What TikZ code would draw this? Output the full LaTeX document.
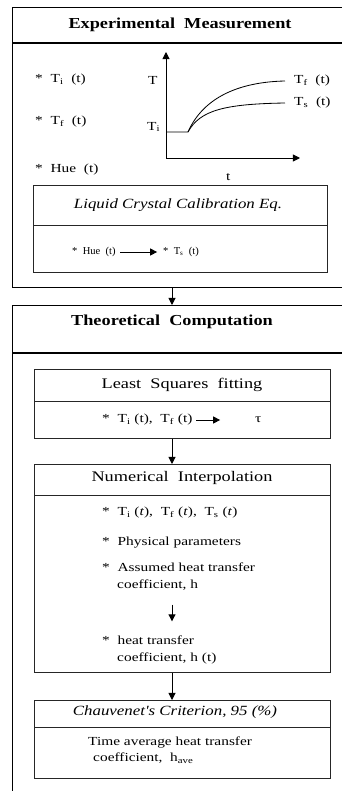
\documentclass[tikz,border=0pt]{standalone}
\usepackage{fontspec}
\setmainfont{Liberation Serif}
\newfontfamily\widefont{Liberation Serif}[FakeStretch=1.25]
\newfontfamily\headfont{Liberation Serif}[FakeStretch=1.2]
\usetikzlibrary{arrows.meta,positioning}

\tikzset{
  frame/.style={draw=black, line width=1.1pt, anchor=north west, inner sep=0pt, minimum width=9.99cm},
  panel/.style={draw=black!85, line width=0.6pt, anchor=north west, inner sep=0pt, minimum width=8.88cm},
  head/.style={font=\headfont\fontsize{13}{15}\selectfont\bfseries},
  tag/.style={font=\widefont\fontsize{12.5}{15}\selectfont},
  slanted/.style={font=\headfont\fontsize{12}{14}\selectfont\itshape},
  item/.style={font=\widefont\fontsize{10.5}{12}\selectfont, anchor=west, inner sep=0pt},
  small/.style={item, font=\fontsize{9}{11}\selectfont},
  flow/.style={-{Triangle[length=6pt,width=6pt]}, line width=0.8pt},
}

\begin{document}
\begin{tikzpicture}[x=0.03cm, y=-0.03cm]
\useasboundingbox (0,0) rectangle (342,791);
\clip (0,0) rectangle (342,791);
\coordinate (spine) at (172,0);

% experimental measurement
\node[frame, minimum height=8.4cm] (exp) at (12,7) {};
\draw[line width=1.1pt] (12,43) -- (345,43);
\node[head] (exptitle) at (180,25) {Experimental\ \ Measurement};
\node[item] (ti) at (35,80) {* \ T\textsubscript{i} \ (t)};
\node[item] (tf) at (35,122) {* \ T\textsubscript{f} \ (t)};
\node[item] (hue) at (35,170) {* \ Hue \ (t)};

% temperature history
\draw[{Triangle[length=6pt,width=6pt]}-{Triangle[length=6pt,width=6pt]}, line width=0.8pt] (166,52) |- (300,158);
\draw[line width=0.7pt] (166,132) -- (188,132) .. controls (203,98) and (238,82) .. (285,81);
\draw[line width=0.7pt] (188,132) .. controls (200,110) and (225,104) .. (285,103);
\node[item] (tlab) at (148,80) {T};
\node[item] (tilab) at (147,127) {T\textsubscript{i}};
\node[item] (tflab) at (294,81) {T\textsubscript{f} \ (t)};
\node[item] (tslab) at (294,103) {T\textsubscript{s} \ (t)};
\node[item] (tt) at (226,177) {t};

% calibration
\node[panel, minimum width=8.82cm, minimum height=2.61cm] (calib) at (33,185) {};
\draw[black!85, line width=0.6pt] (33,225) -- (327,225);
\node[slanted] (calibtitle) at (178,205) {Liquid Crystal Calibration Eq.};
\node[small] (huein) at (72,252) {* \ Hue \ (t)};
\node[small] (tsout) at (163,252) {* \ T\textsubscript{s} \ (t)};
\draw[flow] ([xshift=4pt]huein.east) -- ([xshift=-5pt]tsout.west);

% theoretical computation
\node[frame, minimum height=14.7cm] (theo) at (12,305) {};
\draw[line width=1.1pt] (12,353) -- (345,353);
\node[head] (theotitle) at (172,322) {Theoretical\ \ Computation};
\draw[flow] (exp.south -| spine) -- (theo.north -| spine);

\node[panel, minimum height=2.07cm] (lsq) at (34,369) {};
\draw[black!85, line width=0.6pt] (34,401) -- (330,401);
\node[tag] (lsqtitle) at (182,385) {Least \ Squares \ fitting};
\node[item] (lsqin) at (102,420) {* \ T\textsubscript{i} (t), \ T\textsubscript{f} (t)};
\node[item] (tau) at (255,420) {τ};
\draw[flow] ([xshift=3pt]lsqin.east) -- ++(24,0);

\node[panel, minimum height=6.24cm] (interp) at (34,464) {};
\draw[black!85, line width=0.6pt] (34,495) -- (330,495);
\node[tag] (interptitle) at (182,478) {Numerical \ Interpolation};
\node[item] (temps) at (102,513) {* \ T\textsubscript{i} (\textit{t}), \ T\textsubscript{f} (\textit{t}), \ T\textsubscript{s} (\textit{t})};
\node[item] (phys) at (102,543) {* \ Physical parameters};
\node[item] (guess) at (102,567) {* \ Assumed heat transfer};
\node[item] (guessh) at (117,585) {coefficient, h};
\node[item] (calc) at (102,640) {* \ heat transfer};
\node[item] (calch) at (117,658) {coefficient, h (t)};
\draw[flow, shorten <=12pt, shorten >=12pt] (guessh.south -| spine) -- (calc.north -| spine);
\draw[flow] (lsq.south -| spine) -- (interp.north -| spine);

\node[panel, minimum height=2.34cm] (chauv) at (34,700) {};
\draw[black!85, line width=0.6pt] (34,727) -- (330,727);
\node[slanted] (chauvtitle) at (175,712) {Chauvenet's Criterion, 95 (\%)};
\node[item] (avg) at (88,742) {Time average heat transfer};
\node[item] (avgh) at (93,758) {coefficient, \ h\textsubscript{ave}};
\draw[flow] (interp.south -| spine) -- (chauv.north -| spine);
\end{tikzpicture}
\end{document}
